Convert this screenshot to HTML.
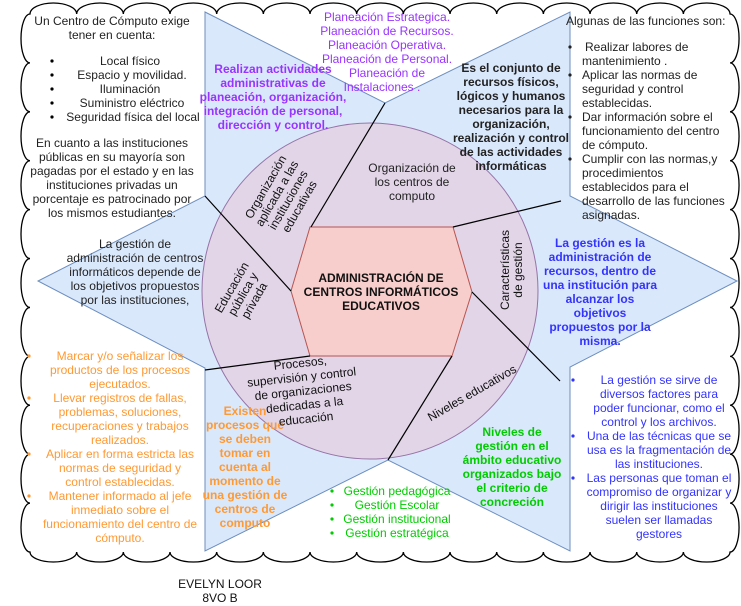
<!DOCTYPE html>
<html><head><meta charset="utf-8"><style>
html,body{margin:0;padding:0;background:#fff;width:741px;height:606px;overflow:hidden}
svg{display:block}
text{font-family:"Liberation Sans",Arial,sans-serif;font-size:12px}
.b{font-weight:bold}
</style></head><body>
<svg width="741" height="606" viewBox="0 0 741 606" xmlns="http://www.w3.org/2000/svg">
<path d="M30 14
a23.3 11 0 0 1 46.67 0 a23.3 11 0 0 1 46.67 0 a23.3 11 0 0 1 46.67 0 a23.3 11 0 0 1 46.67 0 a23.3 11 0 0 1 46.67 0
a23.3 11 0 0 1 46.67 0 a23.3 11 0 0 1 46.67 0 a23.3 11 0 0 1 46.67 0 a23.3 11 0 0 1 46.67 0 a23.3 11 0 0 1 46.67 0
a23.3 11 0 0 1 46.67 0 a23.3 11 0 0 1 46.67 0 a23.3 11 0 0 1 46.67 0 a23.3 11 0 0 1 46.67 0 a23.3 11 0 0 1 46.67 0
a9 24.45 0 0 1 0 48.91 a9 24.45 0 0 1 0 48.91 a9 24.45 0 0 1 0 48.91 a9 24.45 0 0 1 0 48.91 a9 24.45 0 0 1 0 48.91
a9 24.45 0 0 1 0 48.91 a9 24.45 0 0 1 0 48.91 a9 24.45 0 0 1 0 48.91 a9 24.45 0 0 1 0 48.91 a9 24.45 0 0 1 0 48.91 a9 24.45 0 0 1 0 48.91
a23.3 10 0 0 1 -46.67 0 a23.3 10 0 0 1 -46.67 0 a23.3 10 0 0 1 -46.67 0 a23.3 10 0 0 1 -46.67 0 a23.3 10 0 0 1 -46.67 0
a23.3 10 0 0 1 -46.67 0 a23.3 10 0 0 1 -46.67 0 a23.3 10 0 0 1 -46.67 0 a23.3 10 0 0 1 -46.67 0 a23.3 10 0 0 1 -46.67 0
a23.3 10 0 0 1 -46.67 0 a23.3 10 0 0 1 -46.67 0 a23.3 10 0 0 1 -46.67 0 a23.3 10 0 0 1 -46.67 0 a23.3 10 0 0 1 -46.67 0
a9 24.45 0 0 1 0 -48.91 a9 24.45 0 0 1 0 -48.91 a9 24.45 0 0 1 0 -48.91 a9 24.45 0 0 1 0 -48.91 a9 24.45 0 0 1 0 -48.91
a9 24.45 0 0 1 0 -48.91 a9 24.45 0 0 1 0 -48.91 a9 24.45 0 0 1 0 -48.91 a9 24.45 0 0 1 0 -48.91 a9 24.45 0 0 1 0 -48.91 a9 24.45 0 0 1 0 -48.91 Z"
 fill="#fff" stroke="#000" stroke-width="1.3"/>
<polygon points="205,12 385,103 570,12 570,196 737,281 570,367 570,551 388,460 205,551 205,368 38,281 205,196" fill="#dae8fc" stroke="#6c8ebf" stroke-width="1"/>
<ellipse cx="370" cy="291" rx="168" ry="168" fill="#e1d5e7" stroke="#9673a6" stroke-width="1"/>
<polygon points="310,227 453,227 472,292 452,356 310,356 291,291" fill="#f8cecc" stroke="#b85450" stroke-width="1"/>
<g stroke="#000" stroke-width="1.2">
<line x1="205" y1="196" x2="291" y2="291"/>
<line x1="385" y1="103" x2="311" y2="227"/>
<line x1="453" y1="227" x2="561" y2="201"/>
<line x1="472" y1="292" x2="560" y2="381"/>
<line x1="452" y1="356" x2="388" y2="460"/>
<line x1="310" y1="356" x2="205" y2="370"/>
</g>

<g text-anchor="middle" fill="#222">
<text x="112" y="25">Un Centro de Cómputo exige</text>
<text x="112" y="39">tener en cuenta:</text>
<text x="130" y="65">Local físico</text>
<text x="132" y="79">Espacio y movilidad.</text>
<text x="130" y="93">Iluminación</text>
<text x="132" y="107">Suministro eléctrico</text>
<text x="133" y="121">Seguridad física del local</text>
<text x="112" y="147">En cuanto a las instituciones</text>
<text x="112" y="161">públicas en su mayoría son</text>
<text x="112" y="175">pagadas por el estado y en las</text>
<text x="112" y="189">instituciones privadas un</text>
<text x="112" y="203">porcentaje es patrocinado por</text>
<text x="112" y="217">los mismos estudiantes.</text>
<text x="135" y="248">La gestión de</text>
<text x="135" y="262">administración de centros</text>
<text x="135" y="276">informáticos depende de</text>
<text x="135" y="290">los objetivos propuestos</text>
<text x="135" y="304">por las instituciones,</text>
</g>
<g fill="#000"><circle cx="52" cy="61" r="1.6"/><circle cx="52" cy="75" r="1.6"/><circle cx="52" cy="89" r="1.6"/><circle cx="52" cy="103" r="1.6"/><circle cx="52" cy="117" r="1.6"/></g>

<g text-anchor="middle" fill="#9933ff">
<text x="387" y="21">Planeación Estrategica.</text>
<text x="387" y="35">Planeación de Recursos.</text>
<text x="387" y="49">Planeación Operativa.</text>
<text x="387" y="63">Planeación de Personal.</text>
<text x="387" y="77">Planeación de</text>
<text x="382" y="91">Instalaciones .</text>
</g>
<g text-anchor="middle" fill="#9933ff" class="b">
<text x="273" y="73" class="b">Realizan actividades</text>
<text x="273" y="87" class="b">administrativas de</text>
<text x="273" y="101" class="b">planeación, organización,</text>
<text x="273" y="115" class="b">integración de personal,</text>
<text x="273" y="129" class="b">dirección y control.</text>
</g>
<g text-anchor="middle" fill="#222">
<text x="511" y="72" class="b">Es el conjunto de</text>
<text x="511" y="86" class="b">recursos físicos,</text>
<text x="511" y="100" class="b">lógicos y humanos</text>
<text x="511" y="114" class="b">necesarios para la</text>
<text x="511" y="128" class="b">organización,</text>
<text x="511" y="142" class="b">realización y control</text>
<text x="511" y="156" class="b">de las actividades</text>
<text x="511" y="170" class="b">informáticas</text>
<text x="412" y="172">Organización de</text>
<text x="412" y="186">los centros de</text>
<text x="412" y="200">computo</text>
</g>
<g fill="#222">
<text x="566" y="25">Algunas de las funciones son:</text>
<text x="585" y="51">Realizar labores de</text>
<text x="582" y="65">mantenimiento .</text>
<text x="582" y="79">Aplicar  las normas de</text>
<text x="582" y="93">seguridad y control</text>
<text x="582" y="107">establecidas.</text>
<text x="582" y="121">Dar información sobre el</text>
<text x="582" y="135">funcionamiento del centro</text>
<text x="582" y="149">de cómputo.</text>
<text x="582" y="163">Cumplir con las normas,y</text>
<text x="582" y="177">procedimientos</text>
<text x="582" y="191">establecidos  para el</text>
<text x="582" y="205">desarrollo de las funciones</text>
<text x="582" y="219">asignadas.</text>
<circle cx="570" cy="47" r="1.6"/><circle cx="570" cy="75" r="1.6"/><circle cx="570" cy="117" r="1.6"/><circle cx="570" cy="159" r="1.6"/>
</g>
<g text-anchor="middle" fill="#3333ff">
<text x="600" y="247" class="b">La gestión es la</text>
<text x="600" y="261" class="b">administración de</text>
<text x="600" y="275" class="b">recursos,  dentro de</text>
<text x="600" y="289" class="b">una institución  para</text>
<text x="600" y="303" class="b">alcanzar los</text>
<text x="600" y="317" class="b">objetivos</text>
<text x="600" y="331" class="b">propuestos por la</text>
<text x="600" y="345" class="b">misma.</text>
<text x="659" y="384">La gestión se sirve de</text>
<text x="659" y="398">diversos factores para</text>
<text x="659" y="412">poder funcionar, como el</text>
<text x="659" y="426">control y los archivos.</text>
<text x="659" y="440">Una de las técnicas que se</text>
<text x="659" y="454">usa es la fragmentación de</text>
<text x="659" y="468">las instituciones.</text>
<text x="659" y="482">Las personas que toman el</text>
<text x="659" y="496">compromiso de organizar y</text>
<text x="659" y="510">dirigir las instituciones</text>
<text x="659" y="524">suelen ser llamadas</text>
<text x="659" y="538">gestores</text>
</g>
<g fill="#3333ff"><circle cx="573" cy="380" r="1.6"/><circle cx="573" cy="436" r="1.6"/><circle cx="573" cy="478" r="1.6"/></g>

<g text-anchor="middle" fill="#ff9933">
<text x="120" y="360">Marcar y/o señalizar los</text>
<text x="120" y="374">productos de los procesos</text>
<text x="120" y="388">ejecutados.</text>
<text x="120" y="402">Llevar registros de fallas,</text>
<text x="120" y="416">problemas, soluciones,</text>
<text x="120" y="430">recuperaciones y trabajos</text>
<text x="120" y="444">realizados.</text>
<text x="120" y="458">Aplicar en forma estricta las</text>
<text x="120" y="472">normas de seguridad y</text>
<text x="120" y="486">control establecidas.</text>
<text x="120" y="500">Mantener informado al jefe</text>
<text x="120" y="514">inmediato sobre el</text>
<text x="120" y="528">funcionamiento del centro de</text>
<text x="120" y="542">cómputo.</text>
<text x="245" y="415" class="b">Existen</text>
<text x="245" y="429" class="b">procesos que</text>
<text x="245" y="443" class="b">se deben</text>
<text x="245" y="457" class="b">tomar en</text>
<text x="245" y="471" class="b">cuenta al</text>
<text x="245" y="485" class="b">momento de</text>
<text x="245" y="499" class="b">una gestión de</text>
<text x="245" y="513" class="b">centros de</text>
<text x="245" y="527" class="b">computo</text>
</g>
<g fill="#ff9933"><circle cx="29" cy="356" r="1.6"/><circle cx="29" cy="398" r="1.6"/><circle cx="29" cy="454" r="1.6"/><circle cx="29" cy="496" r="1.6"/></g>

<g text-anchor="middle" fill="#00cc00">
<text x="397" y="495">Gestión pedagógica</text>
<text x="397" y="509">Gestión Escolar</text>
<text x="397" y="523">Gestión institucional</text>
<text x="397" y="537">Gestión estratégica</text>
<text x="512" y="436" class="b">Niveles de</text>
<text x="512" y="450" class="b">gestión en el</text>
<text x="512" y="464" class="b">ámbito educativo</text>
<text x="512" y="478" class="b">organizados bajo</text>
<text x="512" y="492" class="b">el criterio de</text>
<text x="512" y="506" class="b">concreción</text>
</g>
<g fill="#00cc00"><circle cx="332" cy="491" r="1.6"/><circle cx="332" cy="505" r="1.6"/><circle cx="332" cy="519" r="1.6"/><circle cx="332" cy="533" r="1.6"/></g>

<g text-anchor="middle" fill="#111">
<text x="381" y="282" class="b">ADMINISTRACIÓN DE</text>
<text x="381" y="296" class="b">CENTROS INFORMÁTICOS</text>
<text x="381" y="310" class="b">EDUCATIVOS</text>
<g transform="translate(283,197) rotate(-60)">
<text x="0" y="-16">Organización</text><text x="0" y="-3">aplicada a las</text><text x="0" y="10">instituciones</text><text x="0" y="23">educativas</text></g>
<g transform="translate(243,294) rotate(-60)">
<text x="0" y="-9">Educación</text><text x="0" y="4">pública y</text><text x="0" y="17">privada</text></g>
<g transform="translate(511,270) rotate(-90)">
<text x="0" y="-2">Características</text><text x="0" y="11">de gestión</text></g>
<g transform="translate(472,393) rotate(-30)"><text x="0" y="4">Niveles educativos</text></g>
<g transform="translate(303,390) rotate(-6)">
<text x="0" y="-23">Procesos,</text><text x="0" y="-9">supervisión y control</text><text x="0" y="5">de organizaciones</text><text x="0" y="19">dedicadas a la</text><text x="0" y="33">educación</text></g>
<text x="220" y="588">EVELYN LOOR</text>
<text x="220" y="602">8VO B</text>
</g>
</svg>
</body></html>
